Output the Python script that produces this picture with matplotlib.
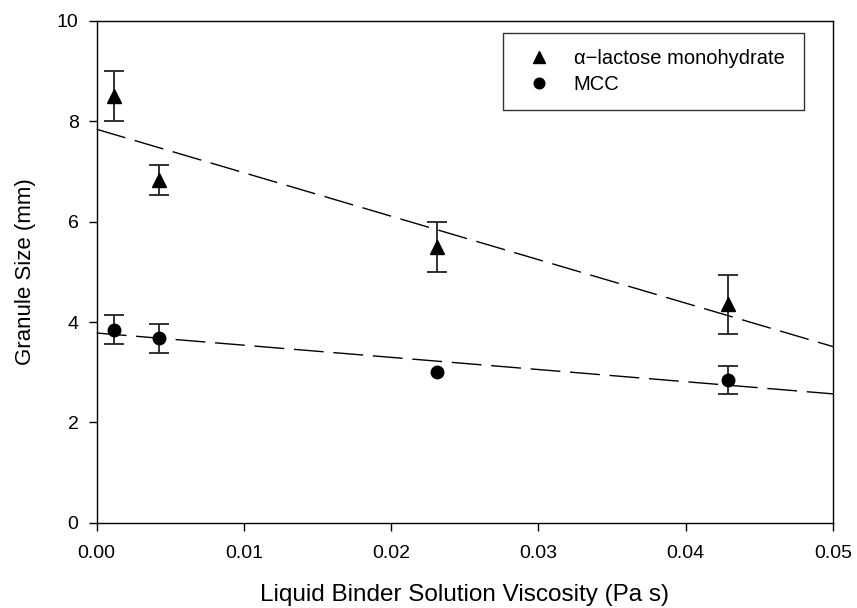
import numpy as np
import matplotlib
matplotlib.use("Agg")
import matplotlib.pyplot as plt

plt.rcParams['font.family'] = ['Liberation Sans', 'DejaVu Sans']

# Data
viscosity = [0.0012, 0.0042, 0.0231, 0.0429]
lactose_size = [8.50, 6.83, 5.50, 4.35]
lactose_err = [0.50, 0.29, 0.50, 0.58]
mcc_size = [3.85, 3.68, 3.01, 2.85]
mcc_err = [0.28, 0.29, np.nan, 0.28]

x_ticks = [0.00, 0.01, 0.02, 0.03, 0.04, 0.05]
x_ticklabels = ["0.00", "0.01", "0.02", "0.03", "0.04", "0.05"]
y_ticks = [0, 2, 4, 6, 8, 10]

fig = plt.figure(figsize=(8.57, 6.08), dpi=100)
ax = fig.add_axes([0.1128, 0.1403, 0.8592, 0.8252])

# regression lines
xfit = np.array([0.0, 0.05])
for ys in (lactose_size, mcc_size):
    p = np.polyfit(viscosity, ys, 1)
    ax.plot(xfit, np.polyval(p, xfit), color='black', lw=1.0,
            dashes=(21.5, 7), zorder=2, clip_on=False)

ax.errorbar(viscosity, lactose_size, yerr=lactose_err, fmt='^', color='black',
            ms=10, capsize=7, elinewidth=1.3, capthick=1.3, ecolor='#222222',
            label='\u03b1\u2212lactose monohydrate', zorder=3)
ax.errorbar(viscosity, mcc_size, yerr=mcc_err, fmt='o', color='black',
            ms=9, capsize=7, elinewidth=1.3, capthick=1.3, ecolor='#222222',
            label='MCC', zorder=3)

ax.set_xlim(0, 0.05)
ax.set_ylim(0, 10)
ax.set_xticks(x_ticks)
ax.set_xticklabels(x_ticklabels)
ax.set_yticks(y_ticks)
ax.tick_params(direction='out', length=6, width=1, labelsize=14)
ax.tick_params(axis='x', pad=10)
ax.tick_params(axis='y', pad=7)
for s in ax.spines.values():
    s.set_linewidth(1.0)

ax.set_xlabel('Liquid Binder Solution Viscosity (Pa s)', fontsize=17.5, labelpad=16)
ax.set_ylabel('Granule Size (mm)', fontsize=16, labelpad=15)

handles, labels = ax.get_legend_handles_labels()
handles = [h[0] for h in handles]
leg = ax.legend(handles, labels, loc='upper left',
                bbox_to_anchor=(0.552, 0.8246, 0.4086, 0.1521), mode='expand',
                fontsize=14.5, frameon=True, fancybox=False, edgecolor='black',
                borderpad=0.8, labelspacing=0.35, handlelength=2.0,
                handletextpad=0.7, borderaxespad=0, markerscale=0.85)
leg.get_frame().set_linewidth(1.0)

fig.savefig('out.png', dpi=100)
